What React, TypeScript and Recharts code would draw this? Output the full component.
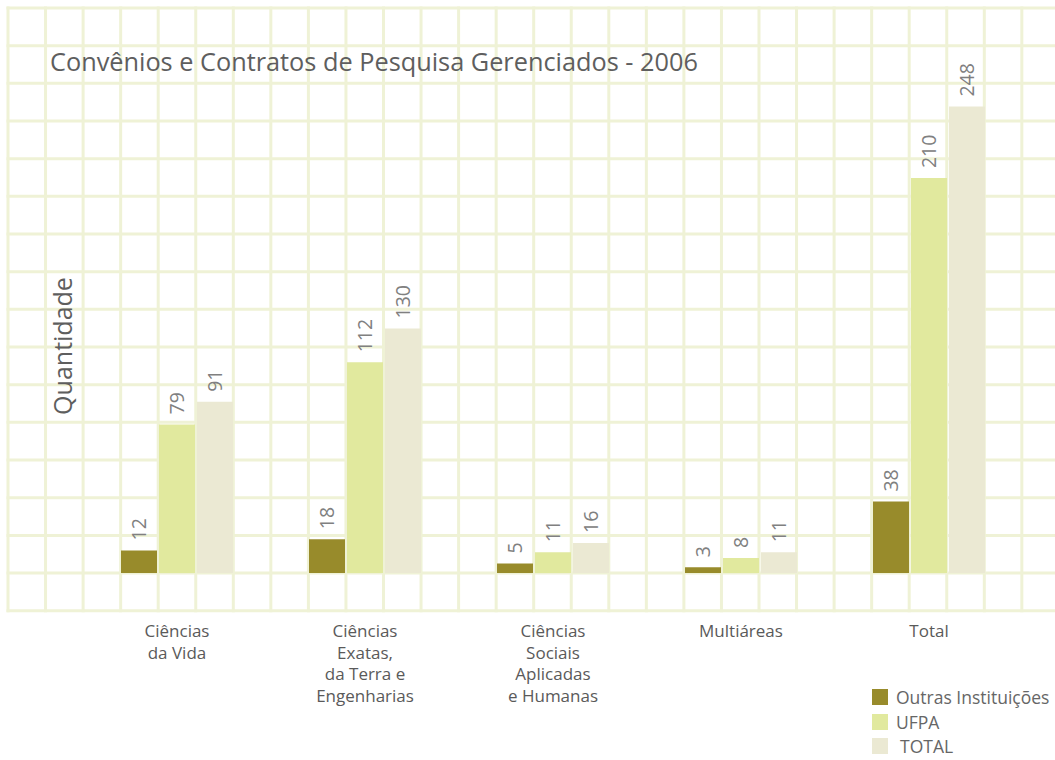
import React from "react";
import { BarChart, Bar, XAxis, YAxis, LabelList, Legend } from "recharts";

const categories = [
  "Ciências\nda Vida",
  "Ciências\nExatas,\nda Terra e\nEngenharias",
  "Ciências\nSociais\nAplicadas\ne Humanas",
  "Multiáreas",
  "Total",
];
const outrasValues = [12, 18, 5, 3, 38];
const ufpaValues = [79, 112, 11, 8, 210];
const totalValues = [91, 130, 16, 11, 248];

const seriesKeys = ["outras", "ufpa", "total"];
const seriesNames = ["Outras Instituições", "UFPA", "TOTAL"];
const seriesColors = ["#988b2b", "#e1e99e", "#ebe9d3"];

const title = "Convênios e Contratos de Pesquisa Gerenciados - 2006";
const yLabel = "Quantidade";

const data = categories.map((name, i) => ({
  name,
  outras: outrasValues[i],
  ufpa: ufpaValues[i],
  total: totalValues[i],
}));

const FONT = "'Open Sans', 'Noto Sans', sans-serif";
const GRID = "#eff2d6";

const CategoryTick = (props: any) => {
  const { x, y, payload } = props;
  const lines = String(payload.value).split("\n");
  return (
    <text x={x} y={y} textAnchor="middle" fill="#5a5a5a" fontSize={17} fontFamily={FONT}>
      {lines.map((l, i) => (
        <tspan key={i} x={x} dy={i === 0 ? 56 : 21.5}>
          {l}
        </tspan>
      ))}
    </text>
  );
};

const renderValueLabel = (props: any) => {
  const { x, y, width, value } = props;
  const cx = Number(x) + Number(width) / 2 + 7;
  const ty = Number(y) - 10;
  return (
    <text
      x={cx}
      y={ty}
      transform={`rotate(-90, ${cx}, ${ty})`}
      textAnchor="start"
      fill="#808080"
      fontSize={19.5}
      fontFamily={FONT}
    >
      {value}
    </text>
  );
};

const LegendContent = (props: any) => {
  const payload = [...(props.payload || [])].sort(
    (a: any, b: any) => seriesNames.indexOf(a.value) - seriesNames.indexOf(b.value)
  );
  return (
    <div style={{ fontFamily: FONT, fontSize: 17.5, color: "#666" }}>
      {payload.map((p: any, i: number) => (
        <div key={i} style={{ display: "flex", alignItems: "center", height: 24.5 }}>
          <div style={{ width: 16, height: 16, background: p.color, marginRight: p.value === "TOTAL" ? 12 : 8 }} />
          <span style={{ whiteSpace: "pre" }}>{p.value}</span>
        </div>
      ))}
    </div>
  );
};

const Background = () => {
  const hStep = 37.67;
  const vStep = 37.55;
  const hLines = Array.from({ length: 17 }, (_, k) => 8 + hStep * k);
  const vLines = Array.from({ length: 29 }, (_, k) => 8 + vStep * k);
  const bottom = hLines[hLines.length - 1];
  return (
    <svg width={1055} height={760} style={{ position: "absolute", left: 0, top: 0 }}>
      {hLines.map((y, i) => (
        <line key={"h" + i} x1={6.5} x2={1060} y1={y} y2={y} stroke={GRID} strokeWidth={3} />
      ))}
      {vLines.map((x, i) => (
        <line key={"v" + i} x1={x} x2={x} y1={6.5} y2={bottom + 1.5} stroke={GRID} strokeWidth={3} />
      ))}
      <text x={50} y={71} fill="#5e5e5e" fontSize={25.3} fontFamily={FONT}>
        {title}
      </text>
      <text
        x={72}
        y={346}
        transform="rotate(-90, 72, 346)"
        textAnchor="middle"
        fill="#5e5e5e"
        fontSize={25}
        fontFamily={FONT}
      >
        {yLabel}
      </text>
    </svg>
  );
};

export default function App() {
  return (
    <div
      style={{
        position: "fixed",
        left: 0,
        top: 0,
        width: 1055,
        height: 760,
        overflow: "hidden",
        background: "#fff",
      }}
    >
      <Background />
      <div style={{ position: "absolute", left: 0, top: 0 }}>
        <BarChart
          width={1055}
          height={760}
          data={data}
          margin={{ top: 84, right: 32, bottom: 0, left: 83 }}
          barSize={36}
          barGap={2}
        >
          <XAxis
            dataKey="name"
            axisLine={false}
            tickLine={false}
            height={187}
            interval={0}
            tick={<CategoryTick />}
          />
          <YAxis hide width={0} domain={[0, 260]} />
          <Legend
            layout="horizontal"
            verticalAlign="middle"
            align="center"
            content={<LegendContent />}
            wrapperStyle={{ left: 872, top: 685, width: 183, height: 75 }}
          />
          {seriesKeys.map((k, i) => (
            <Bar key={k} dataKey={k} name={seriesNames[i]} fill={seriesColors[i]} isAnimationActive={false}>
              <LabelList dataKey={k} content={renderValueLabel} />
            </Bar>
          ))}
        </BarChart>
      </div>
    </div>
  );
}
